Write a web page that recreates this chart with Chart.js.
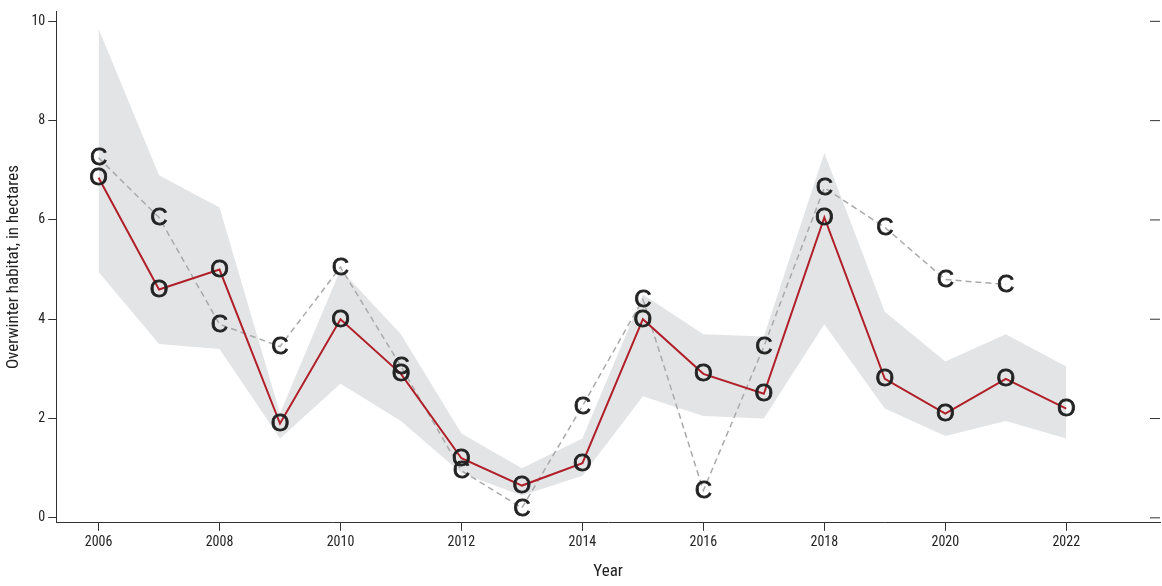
<!DOCTYPE html>
<html><head><meta charset="utf-8">
<script src="https://cdn.jsdelivr.net/npm/chart.js@4/dist/chart.umd.min.js"></script>
<style>html,body{margin:0;padding:0;background:#fff}#w{width:1162px;height:586px}</style>
</head><body><div id="w"><canvas id="c"></canvas></div>
<script>
const years=[2006,2007,2008,2009,2010,2011,2012,2013,2014,2015,2016,2017,2018,2019,2020,2021,2022];
const obsO=[6.85,4.6,5.0,1.9,4.0,2.9,1.2,0.65,1.1,4.0,2.9,2.5,6.05,2.8,2.1,2.8,2.2];
const calcC=[7.25,6.05,3.9,3.45,5.05,3.05,0.95,0.2,2.25,4.4,0.55,3.45,6.65,5.85,4.8,4.7,null];
const bandHi=[9.85,6.9,6.25,2.1,5.0,3.7,1.7,1.0,1.6,4.5,3.7,3.65,7.35,4.15,3.15,3.7,3.05];
const bandLo=[4.95,3.5,3.4,1.6,2.7,1.95,0.9,0.45,0.85,2.45,2.05,2.0,3.9,2.2,1.65,1.95,1.6];
const yTicks=[0,2,4,6,8,10];
const xTicks=[2006,2008,2010,2012,2014,2016,2018,2020,2022];
const pts=a=>years.map((x,i)=>({x,y:a[i]})).filter(p=>p.y!==null);
const F="'Liberation Sans Narrow','Roboto Condensed','Liberation Sans',sans-serif";
const letters={id:'letters',afterDatasetsDraw(ch){const ctx=ch.ctx;ctx.save();ctx.font="24px 'Liberation Sans',Arial,sans-serif";ctx.fillStyle='#222';ctx.strokeStyle='#222';ctx.lineWidth=0.8;ctx.textAlign='center';ctx.textBaseline='middle';
 [[3,'C'],[2,'O']].forEach(([di,l])=>{ch.getDatasetMeta(di).data.forEach(p=>{ctx.fillText(l,p.x,p.y+1);ctx.strokeText(l,p.x,p.y+1);});});
 const y=ch.scales.y,a=ch.chartArea;ctx.strokeStyle='#333';ctx.lineWidth=1;yTicks.forEach(v=>{const py=y.getPixelForValue(v);ctx.beginPath();ctx.moveTo(a.right-10,py);ctx.lineTo(a.right,py);ctx.stroke();});ctx.restore();}};
new Chart(document.getElementById('c'),{type:'line',
data:{datasets:[
{data:pts(bandLo),borderWidth:0,pointRadius:0,fill:false,backgroundColor:'#e3e4e5',order:4},
{data:pts(bandHi),borderWidth:0,pointRadius:0,fill:'-1',backgroundColor:'#e3e4e5',order:3},
{data:pts(obsO),borderColor:'#b0202a',borderWidth:2,pointRadius:0,fill:false,order:1},
{data:pts(calcC),borderColor:'#aaaaaa',borderWidth:1.5,borderDash:[6,4],pointRadius:0,fill:false,order:2}
]},
options:{responsive:true,maintainAspectRatio:false,animation:false,layout:{padding:{right:2,top:8}},
plugins:{legend:{display:false},tooltip:{enabled:false}},
scales:{
x:{type:'linear',min:2005.3,max:2023.55,afterBuildTicks:s=>{s.ticks=xTicks.map(v=>({value:v}));},
 grid:{drawOnChartArea:false,tickLength:8,color:'#333'},border:{color:'#333'},
 ticks:{color:'#222',font:{family:F,size:14},maxRotation:0,callback:v=>String(v)},
 title:{display:true,text:'Year',color:'#222',font:{family:F,size:17},padding:{top:8}}},
y:{min:-0.1,max:10.2,afterBuildTicks:s=>{s.ticks=yTicks.map(v=>({value:v}));},
 grid:{drawOnChartArea:false,tickLength:8,color:'#333'},border:{color:'#333'},
 ticks:{color:'#222',font:{family:F,size:14}},
 title:{display:true,text:'Overwinter habitat, in hectares',color:'#222',font:{family:F,size:17},padding:{bottom:4}}}
}},plugins:[letters]});
</script></body></html>
